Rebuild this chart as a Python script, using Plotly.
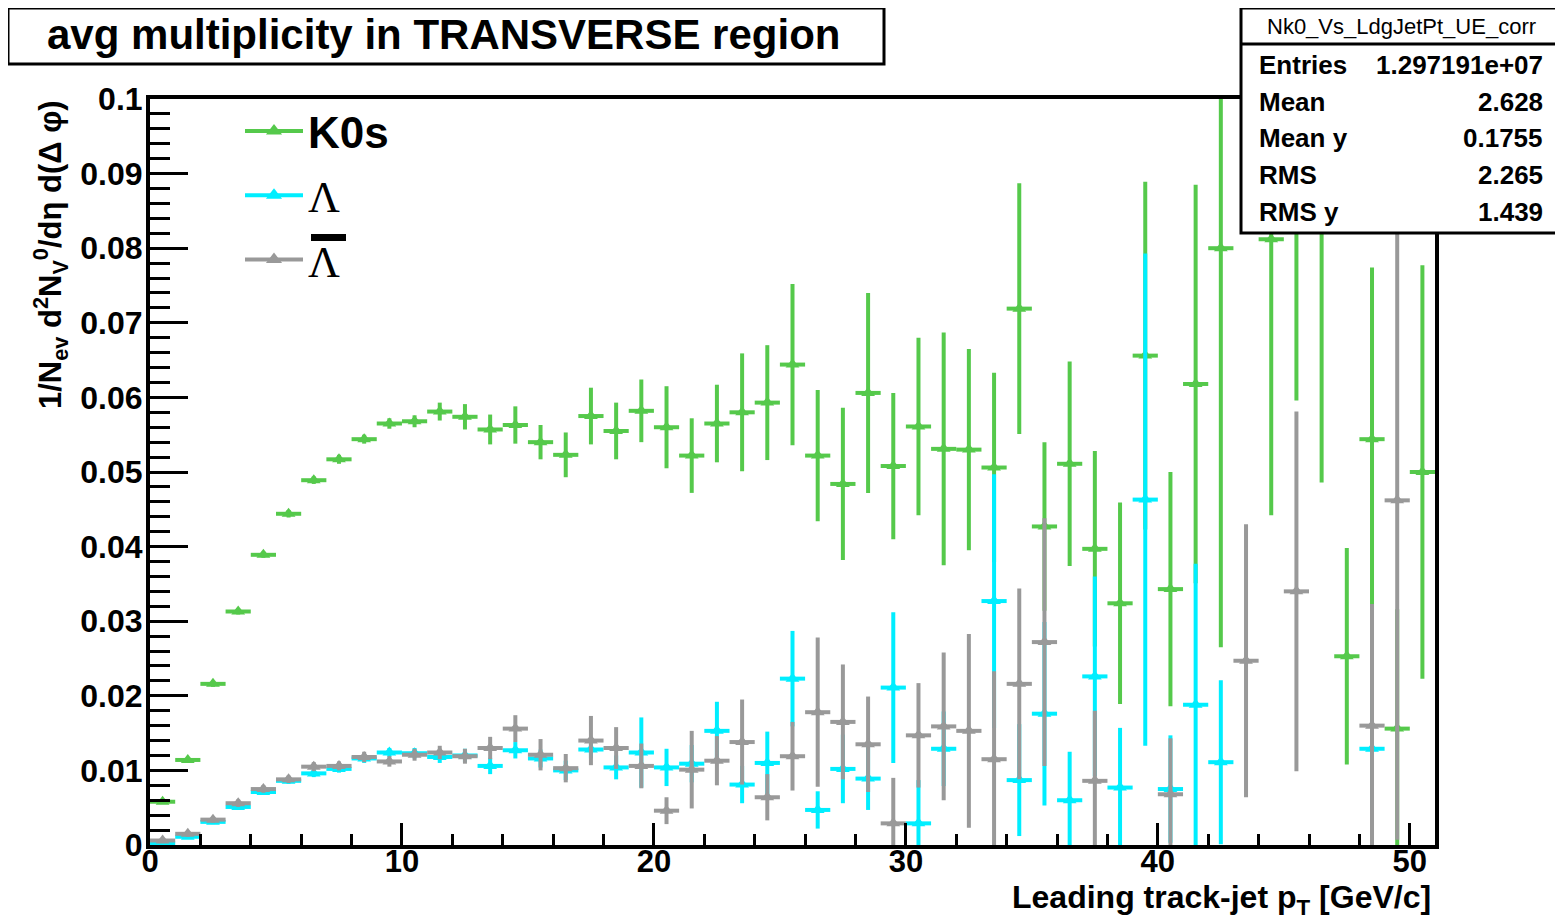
import plotly.graph_objects as go

# ---------------- data ----------------
pt_centers = [0.5, 1.5, 2.5, 3.5, 4.5, 5.5, 6.5, 7.5, 8.5, 9.5,
              10.5, 11.5, 12.5, 13.5, 14.5, 15.5, 16.5, 17.5, 18.5, 19.5,
              20.5, 21.5, 22.5, 23.5, 24.5, 25.5, 26.5, 27.5, 28.5, 29.5,
              30.5, 31.5, 32.5, 33.5, 34.5, 35.5, 36.5, 37.5, 38.5, 39.5,
              40.5, 41.5, 42.5, 43.5, 44.5, 45.5, 46.5, 47.5, 48.5, 49.5, 50.5]
bin_half_width = 0.5

k0s_vals = [0.0058, 0.0114, 0.0216, 0.0313, 0.0389, 0.0444, 0.0489, 0.0517, 0.0544, 0.0565,
            0.0568, 0.0581, 0.0574, 0.0557, 0.0563, 0.0540, 0.0523, 0.0575, 0.0555, 0.0582,
            0.0560, 0.0522, 0.0565, 0.0580, 0.0593, 0.0644, 0.0522, 0.0484, 0.0606, 0.0508,
            0.0561, 0.0531, 0.0530, 0.0506, 0.0719, 0.0427, 0.0511, 0.0397, 0.0324, 0.0656,
            0.0343, 0.0618, 0.0800, None, 0.0812, 0.0930, 0.0870, 0.0253, 0.0544, 0.0156, 0.0500]
k0s_errs = [0.0003, 0.0003, 0.0004, 0.0004, 0.0004, 0.0005, 0.0005, 0.0006, 0.0006, 0.0007,
            0.0008, 0.0012, 0.0017, 0.0020, 0.0025, 0.0023, 0.0030, 0.0038, 0.0038, 0.0042,
            0.0055, 0.0050, 0.0052, 0.0079, 0.0077, 0.0108, 0.0088, 0.0102, 0.0134, 0.0098,
            0.0119, 0.0156, 0.0135, 0.0127, 0.0168, 0.0113, 0.0137, 0.0131, 0.0135, 0.0233,
            0.0157, 0.0267, 0.0535, None, 0.0370, 0.0334, 0.0384, 0.0145, 0.0230, 0.0160, 0.0277]

lam_vals = [0.0002, 0.0011, 0.0031, 0.0051, 0.0071, 0.0086, 0.0096, 0.0102, 0.0116, 0.0124,
            0.0123, 0.0118, 0.0120, 0.0106, 0.0127, 0.0116, 0.0100, 0.0128, 0.0104, 0.0124,
            0.0104, 0.0109, 0.0153, 0.0081, 0.0110, 0.0223, 0.0047, 0.0102, 0.0089, 0.0211,
            0.0029, 0.0129, None, 0.0327, 0.0087, 0.0176, 0.0060, 0.0226, 0.0077, 0.0463,
            0.0075, 0.0188, 0.0111, None, None, None, None, None, 0.0129, None, None]
lam_errs = [0.0002, 0.0003, 0.0003, 0.0004, 0.0004, 0.0004, 0.0005, 0.0005, 0.0006, 0.0006,
            0.0007, 0.0008, 0.0009, 0.0011, 0.0011, 0.0012, 0.0013, 0.0012, 0.0016, 0.0047,
            0.0025, 0.0025, 0.0039, 0.0025, 0.0042, 0.0064, 0.0025, 0.0046, 0.0042, 0.0101,
            0.0058, 0.0050, None, 0.0170, 0.0075, 0.0123, 0.0065, 0.0134, 0.0080, 0.0330,
            0.0072, 0.0189, 0.0110, None, None, None, None, None, 0.0080, None, None]

alam_vals = [0.0006, 0.0015, 0.0034, 0.0056, 0.0075, 0.0088, 0.0105, 0.0106, 0.0118, 0.0112,
             0.0121, 0.0124, 0.0119, 0.0130, 0.0156, 0.0121, 0.0103, 0.0140, 0.0130, 0.0106,
             0.0046, 0.0101, 0.0113, 0.0138, 0.0064, 0.0119, 0.0178, 0.0165, 0.0135, 0.0029,
             0.0147, 0.0159, 0.0153, 0.0115, 0.0216, 0.0272, None, 0.0086, None, None,
             0.0068, None, None, 0.0247, None, 0.0340, None, None, 0.0160, 0.0462, None]
alam_errs = [0.0003, 0.0004, 0.0004, 0.0005, 0.0005, 0.0005, 0.0006, 0.0006, 0.0007, 0.0007,
             0.0008, 0.0009, 0.0010, 0.0015, 0.0018, 0.0021, 0.0019, 0.0033, 0.0028, 0.0030,
             0.0018, 0.0052, 0.0033, 0.0057, 0.0031, 0.0046, 0.0100, 0.0077, 0.0064, 0.0061,
             0.0070, 0.0099, 0.0130, 0.0118, 0.0128, 0.0166, None, 0.0094, None, None,
             0.0075, None, None, 0.0183, None, 0.0241, None, None, 0.0163, 0.0455, None]

series_names = ["K0s", "Λ", "anti-Λ"]
legend_labels = ["<b>K0s</b>",
                 "<span style=\"font-family:'Liberation Serif'\">Λ</span>",
                 "<span style=\"font-family:'Liberation Serif'\">Λ</span>"]
colors = ["#55c94b", "#00eeff", "#999999"]

y_tickvals = [0, 0.01, 0.02, 0.03, 0.04, 0.05, 0.06, 0.07, 0.08, 0.09, 0.1]
y_ticktext = ["0", "0.01", "0.02", "0.03", "0.04", "0.05", "0.06", "0.07", "0.08", "0.09", "0.1"]
x_tickvals = [0, 10, 20, 30, 40, 50]
x_ticktext = ["0", "10", "20", "30", "40", "50"]

stats_title = "Nk0_Vs_LdgJetPt_UE_corr"
stats_labels = ["Entries", "Mean", "Mean y", "RMS", "RMS y"]
stats_values = ["1.297191e+07", "2.628", "0.1755", "2.265", "1.439"]

# ---------------- figure ----------------
# page pixel geometry (the page body has an 8px margin)
OFF = 8
W, H = 1563 - OFF, 924 - OFF
L, R, T, B = 150, 1435, 99, 845   # plot area in page pixels


def px(x):
    return (x - L) / (R - L)


def py(y):
    return (B - y) / (B - T)


fig = go.Figure()

all_vals = [k0s_vals, lam_vals, alam_vals]
all_errs = [k0s_errs, lam_errs, alam_errs]

for name, vals, errs, col in zip(series_names, all_vals, all_errs, colors):
    fig.add_trace(go.Scatter(
        x=pt_centers, y=vals, mode="markers", name=name, showlegend=False,
        marker=dict(symbol="triangle-up", size=12, color=col, line=dict(width=0)),
        error_y=dict(type="data", array=errs, visible=True, color=col, thickness=4, width=0),
        error_x=dict(type="constant", value=bin_half_width, visible=True, color=col,
                     thickness=4, width=0),
    ))

# legend entries
for lab, col, name in zip(legend_labels, colors, series_names):
    fig.add_trace(go.Scatter(
        x=[None], y=[None], mode="lines+markers", name=lab, legendgroup=name,
        line=dict(color=col, width=4),
        marker=dict(symbol="triangle-up", size=14, color=col),
    ))

shapes = []
annotations = []

# overbar of the anti-lambda legend label
shapes.append(dict(type="rect", xref="paper", yref="paper",
                   x0=px(311), x1=px(346), y0=py(241), y1=py(234),
                   line=dict(width=0), fillcolor="black", layer="above"))

# title box
shapes.append(dict(type="rect", xref="paper", yref="paper",
                   x0=px(8), x1=px(884), y0=py(64), y1=py(8),
                   line=dict(color="black", width=3), fillcolor="white", layer="above"))
annotations.append(dict(xref="paper", yref="paper", x=px(443), y=py(35),
                        text="avg multiplicity in TRANSVERSE region", showarrow=False,
                        xanchor="center", yanchor="middle",
                        font=dict(family="Liberation Sans", size=42, color="black", weight="bold")))

# stats box
shapes.append(dict(type="rect", xref="paper", yref="paper",
                   x0=px(1241), x1=px(1560), y0=py(233), y1=py(8),
                   line=dict(color="black", width=3), fillcolor="white", layer="above"))
shapes.append(dict(type="line", xref="paper", yref="paper",
                   x0=px(1241), x1=px(1560), y0=py(44), y1=py(44),
                   line=dict(color="black", width=3), layer="above"))
annotations.append(dict(xref="paper", yref="paper", x=px(1401), y=py(27),
                        text=stats_title, showarrow=False, xanchor="center", yanchor="middle",
                        font=dict(family="Liberation Sans", size=22, color="black")))
row_y = [65, 102, 138, 175, 212]
for lab, val, yy in zip(stats_labels, stats_values, row_y):
    annotations.append(dict(xref="paper", yref="paper", x=px(1257), y=py(yy), text=lab,
                            showarrow=False, xanchor="left", yanchor="middle",
                            font=dict(family="Liberation Sans", size=26, color="black", weight="bold")))
    annotations.append(dict(xref="paper", yref="paper", x=px(1545), y=py(yy), text=val,
                            showarrow=False, xanchor="right", yanchor="middle",
                            font=dict(family="Liberation Sans", size=26, color="black", weight="bold")))

# axis titles
annotations.append(dict(xref="paper", yref="paper", x=px(50), y=py(255),
                        text="1/N<sub>ev</sub> d<sup>2</sup>N<sub>V</sub><sup>0</sup>/dη d(Δ φ)",
                        textangle=-90, showarrow=False, xanchor="center", yanchor="middle",
                        font=dict(family="Liberation Sans", size=31, color="black", weight="bold")))
annotations.append(dict(xref="paper", yref="paper", x=px(1433), y=py(899),
                        text="Leading track-jet p<sub>T</sub> [GeV/c]",
                        showarrow=False, xanchor="right", yanchor="middle",
                        font=dict(family="Liberation Sans", size=32, color="black", weight="bold")))

fig.update_layout(
    width=W, height=H,
    margin=dict(l=L - OFF, r=(W + OFF) - R, t=T - OFF, b=(H + OFF) - B, pad=0),
    paper_bgcolor="white", plot_bgcolor="white",
    showlegend=True,
    legend=dict(x=px(240), y=py(96), xanchor="left", yanchor="top",
                bgcolor="rgba(0,0,0,0)", borderwidth=0,
                font=dict(family="Liberation Sans", size=44, color="black"),
                itemwidth=58, traceorder="grouped", tracegroupgap=4),
    shapes=shapes, annotations=annotations,
    xaxis=dict(range=[0, 51], showgrid=False, zeroline=False,
               showline=True, linecolor="black", linewidth=4, mirror=True,
               ticks="inside", ticklen=22, tickwidth=3, tickcolor="black",
               tickvals=x_tickvals, ticktext=x_ticktext,
               tickfont=dict(family="Liberation Sans", size=31, color="black", weight="bold"),
               ticklabelstandoff=-14,
               minor=dict(dtick=2, tick0=0, ticks="inside", ticklen=11, tickwidth=3,
                          tickcolor="black", showgrid=False)),
    yaxis=dict(range=[0, 0.1], showgrid=False, zeroline=False,
               showline=True, linecolor="black", linewidth=4, mirror=True,
               ticks="inside", ticklen=38, tickwidth=3, tickcolor="black",
               tickvals=y_tickvals, ticktext=y_ticktext,
               tickfont=dict(family="Liberation Sans", size=32, color="black", weight="bold"),
               ticklabelstandoff=-3,
               minor=dict(dtick=0.002, tick0=0, ticks="inside", ticklen=20, tickwidth=3,
                          tickcolor="black", showgrid=False)),
)

fig.write_html("out.html")
